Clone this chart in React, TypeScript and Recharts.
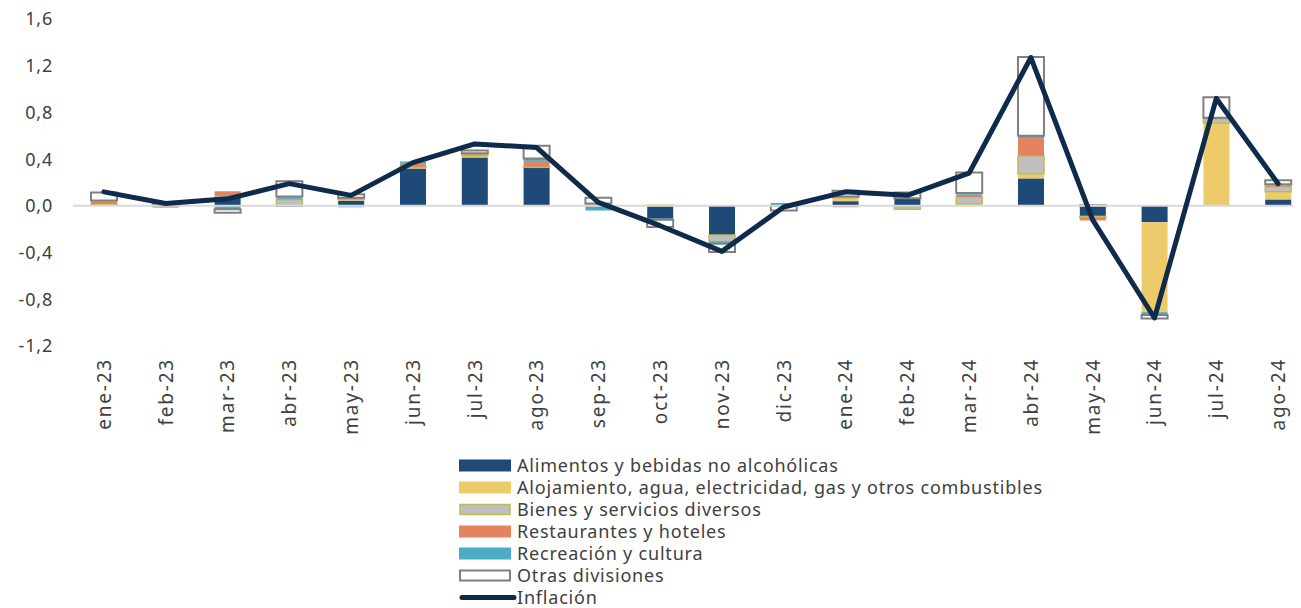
import React from 'react';
import { ComposedChart, Bar, Line, XAxis, YAxis, ReferenceLine } from 'recharts';

const categories = ['ene-23','feb-23','mar-23','abr-23','may-23','jun-23','jul-23','ago-23','sep-23','oct-23','nov-23','dic-23','ene-24','feb-24','mar-24','abr-24','may-24','jun-24','jul-24','ago-24'];
const alimentos = [0, 0, 0.08, -0.01, 0.045, 0.32, 0.415, 0.33, 0, -0.11, -0.25, 0, 0.04, 0.065, 0.005, 0.235, -0.09, -0.14, 0.01, 0.055];
const alojamiento = [0.005, 0, 0.005, 0, 0.01, 0.01, 0.015, 0, 0, 0, 0.005, 0, 0.03, -0.005, 0.01, 0.04, 0, -0.77, 0.70, 0.065];
const bienes = [0.01, 0, 0, 0.055, 0.005, 0.005, 0.01, 0.005, 0, 0.005, -0.055, 0, 0.01, -0.025, 0.06, 0.155, -0.01, 0, 0.035, 0.045];
const restaurantes = [0.02, -0.015, 0.04, 0.005, 0.01, 0.025, 0.005, 0.05, 0.02, 0, 0, 0, -0.012, 0, 0.02, 0.15, -0.025, 0.005, 0.005, 0.01];
const recreacion = [0.01, 0, -0.03, 0.02, -0.012, 0.02, 0.005, 0.02, -0.04, -0.01, -0.02, 0.025, 0, 0, 0.015, 0.02, 0, -0.025, 0.005, 0.01];
const otras = [0.07, 0.02, -0.03, 0.13, 0.03, 0, 0.025, 0.11, 0.05, -0.06, -0.07, -0.04, 0.05, 0.05, 0.175, 0.675, 0.005, -0.03, 0.175, 0.035];
const inflacion = [0.12, 0.02, 0.06, 0.19, 0.09, 0.37, 0.53, 0.50, 0.03, -0.17, -0.39, -0.01, 0.12, 0.09, 0.28, 1.27, -0.12, -0.96, 0.92, 0.19];
const yTicks = [-1.2, -0.8, -0.4, 0, 0.4, 0.8, 1.2, 1.6];

const seriesNames = {
  alimentos: 'Alimentos y bebidas no alcohólicas',
  alojamiento: 'Alojamiento, agua, electricidad, gas y otros combustibles',
  bienes: 'Bienes y servicios diversos',
  restaurantes: 'Restaurantes y hoteles',
  recreacion: 'Recreación y cultura',
  otras: 'Otras divisiones',
  inflacion: 'Inflación',
};

const data = categories.map((c, i) => ({
  cat: c,
  alimentos: alimentos[i],
  alojamiento: alojamiento[i],
  bienes: bienes[i],
  restaurantes: restaurantes[i],
  recreacion: recreacion[i],
  otras: otras[i],
  inflacion: inflacion[i],
}));

const FONT = '"Noto Sans", sans-serif';
const TEXT = '#404040';

const barStyles: Record<string, { fill: string; stroke?: string; strokeWidth?: number }> = {
  alimentos: { fill: '#1F4A78' },
  alojamiento: { fill: '#EECB6A' },
  bienes: { fill: '#BFBFBF', stroke: '#BDBC58', strokeWidth: 1.5 },
  restaurantes: { fill: '#E4835F' },
  recreacion: { fill: '#4BACC6' },
  otras: { fill: '#FFFFFF', stroke: '#808080', strokeWidth: 2 },
};
const barKeys = ['alimentos', 'alojamiento', 'bienes', 'restaurantes', 'recreacion', 'otras'];
const LINE_COLOR = '#0F2B4B';

const XTick = (props: any) => {
  const { x, y, payload } = props;
  return (
    <text transform={`translate(${x},${y}) rotate(-90)`} textAnchor="end" dy="0.36em"
      fontFamily={FONT} fontSize={19} fill={TEXT} letterSpacing={1.8}>
      {payload.value}
    </text>
  );
};

const YTick = (props: any) => {
  const { x, y, payload } = props;
  const s = Number(payload.value).toFixed(1).replace('.', ',');
  return (
    <text x={x} y={y} textAnchor="end" dy="0.36em" fontFamily={FONT} fontSize={18} fill={TEXT} letterSpacing={0.8}>
      {s}
    </text>
  );
};

const Legend = () => (
  <div style={{ position: 'absolute', left: 459, top: 454, fontFamily: FONT, fontSize: 18, color: TEXT, letterSpacing: 0.8 }}>
    {barKeys.map((k) => {
      const st = barStyles[k];
      return (
        <div key={k} style={{ display: 'flex', alignItems: 'center', height: 22 }}>
          <svg width={58} height={22} style={{ display: 'block' }}>
            <rect x={st.strokeWidth ? 1 : 0} y={5.5 + (st.strokeWidth ? 1 : 0)} width={st.strokeWidth ? 50 : 52} height={st.strokeWidth ? 10 : 12}
              fill={st.fill} stroke={st.stroke || 'none'} strokeWidth={st.strokeWidth || 0} />
          </svg>
          <span style={{ lineHeight: '22px', whiteSpace: 'nowrap' }}>{(seriesNames as any)[k]}</span>
        </div>
      );
    })}
    <div style={{ display: 'flex', alignItems: 'center', height: 22 }}>
      <svg width={58} height={22} style={{ display: 'block' }}>
        <line x1={3} y1={11.5} x2={55} y2={11.5} stroke={LINE_COLOR} strokeWidth={5} strokeLinecap="round" />
      </svg>
      <span style={{ lineHeight: '22px', whiteSpace: 'nowrap' }}>{seriesNames.inflacion}</span>
    </div>
  </div>
);

export default function App() {
  return (
    <div style={{ position: 'relative', width: 1301, height: 608, margin: '-8px 0 0 -8px', overflow: 'hidden', background: '#fff' }}>
      <ComposedChart width={1320} height={608} data={data} stackOffset="sign" barSize={26}
        margin={{ top: 19, right: 11, bottom: 0, left: 0 }}>
        <XAxis dataKey="cat" axisLine={false} tickLine={false} tickSize={0} tickMargin={12}
          height={262} interval={0} tick={<XTick />} />
        <YAxis domain={[-1.2, 1.6]} ticks={yTicks} axisLine={false} tickLine={false} tickSize={0}
          tickMargin={20} width={73} tick={<YTick />} allowDataOverflow />
        <ReferenceLine y={0} stroke="#D9D9D9" strokeWidth={2} />
        {barKeys.map((k) => (
          <Bar key={k} dataKey={k} name={(seriesNames as any)[k]} stackId="a" fill={barStyles[k].fill}
            stroke={barStyles[k].stroke} strokeWidth={barStyles[k].strokeWidth} isAnimationActive={false} />
        ))}
        <Line type="linear" dataKey="inflacion" name={seriesNames.inflacion} stroke={LINE_COLOR} strokeWidth={5}
          dot={false} activeDot={false} strokeLinejoin="round" strokeLinecap="round" isAnimationActive={false} />
      </ComposedChart>
      <Legend />
    </div>
  );
}
